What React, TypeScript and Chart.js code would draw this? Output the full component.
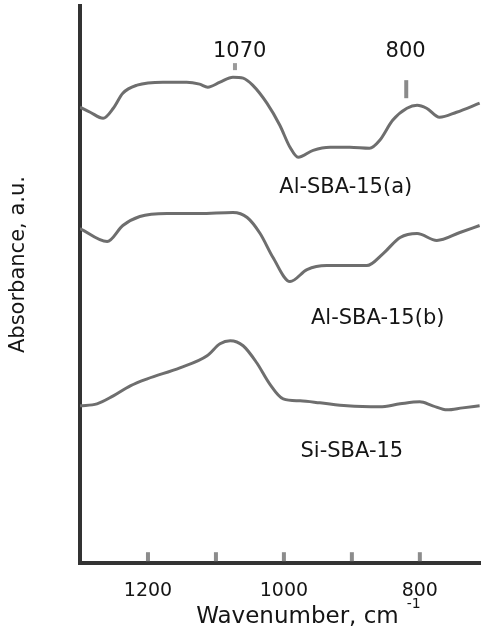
import React, { useEffect, useRef } from "react";
import { Chart, registerables } from "chart.js";

Chart.register(...registerables);

// Wavenumber (cm-1) and absorbance (a.u., offset) of each spectrum
const wnA = [1300, 1285, 1266, 1251, 1237, 1216, 1178, 1143, 1124, 1112, 1094, 1075, 1060, 1046, 1025, 1006, 991, 979, 957, 932, 903, 874, 859, 840, 819, 804, 790, 771, 746, 712];
const absA = [4.55, 4.5, 4.44, 4.54, 4.69, 4.77, 4.8, 4.8, 4.78, 4.75, 4.8, 4.85, 4.84, 4.77, 4.59, 4.37, 4.15, 4.05, 4.12, 4.15, 4.15, 4.14, 4.22, 4.42, 4.54, 4.57, 4.54, 4.45, 4.5, 4.59];

const wnB = [1300, 1260, 1237, 1212, 1172, 1124, 1075, 1054, 1035, 1016, 991, 966, 937, 878, 854, 829, 804, 775, 741, 712];
const absB = [3.34, 3.21, 3.37, 3.46, 3.49, 3.49, 3.5, 3.45, 3.29, 3.05, 2.81, 2.93, 2.97, 2.97, 3.09, 3.25, 3.29, 3.22, 3.3, 3.37];

const wnSi = [1300, 1275, 1251, 1226, 1201, 1153, 1113, 1094, 1079, 1060, 1040, 1021, 1001, 976, 947, 907, 859, 829, 800, 781, 760, 737, 712];
const absSi = [1.57, 1.59, 1.67, 1.77, 1.84, 1.95, 2.07, 2.19, 2.22, 2.17, 2.0, 1.79, 1.64, 1.62, 1.6, 1.57, 1.56, 1.59, 1.61, 1.57, 1.53, 1.55, 1.57];

const seriesNames = ["Al-SBA-15(a)", "Al-SBA-15(b)", "Si-SBA-15"];
const tickValues = [1200, 1100, 1000, 900, 800];
const tickLabelValues = [1200, 1000, 800];
const peakLabels = ["1070", "800"];
const xTitle = "Wavenumber, cm";
const xTitleSup = "-1";
const yTitle = "Absorbance, a.u.";

const FONT = "'DejaVu Sans', sans-serif";
const LINE = "#6e6e6e";
const TEXT = "#151515";

const toPts = (xs: number[], ys: number[]) => xs.map((x, i) => ({ x, y: ys[i] }));

const annotations = {
  id: "annotations",
  afterDraw(chart: any) {
    const { ctx, chartArea, scales } = chart;
    const xs = scales.x;
    const ys = scales.y;
    ctx.save();

    // inward tick marks
    ctx.strokeStyle = "#8c8c8c";
    ctx.lineWidth = 4;
    tickValues.forEach((v) => {
      const px = xs.getPixelForValue(v);
      ctx.beginPath();
      ctx.moveTo(px, chartArea.bottom - 2);
      ctx.lineTo(px, chartArea.bottom - 11);
      ctx.stroke();
    });

    // peak markers
    ctx.strokeStyle = "#9a9a9a";
    ctx.lineWidth = 4;
    ctx.beginPath();
    ctx.moveTo(xs.getPixelForValue(1072), ys.getPixelForValue(4.99));
    ctx.lineTo(xs.getPixelForValue(1072), ys.getPixelForValue(4.92));
    ctx.stroke();
    ctx.strokeStyle = "#8a8a8a";
    ctx.beginPath();
    ctx.moveTo(xs.getPixelForValue(820), ys.getPixelForValue(4.82));
    ctx.lineTo(xs.getPixelForValue(820), ys.getPixelForValue(4.64));
    ctx.stroke();

    ctx.fillStyle = TEXT;
    ctx.textAlign = "center";
    ctx.textBaseline = "middle";
    ctx.font = `21px ${FONT}`;
    ctx.fillText(peakLabels[0], xs.getPixelForValue(1065), ys.getPixelForValue(5.11));
    ctx.fillText(peakLabels[1], xs.getPixelForValue(821), ys.getPixelForValue(5.11));

    ctx.fillText(seriesNames[0], xs.getPixelForValue(909), ys.getPixelForValue(3.75));
    ctx.fillText(seriesNames[1], xs.getPixelForValue(862), ys.getPixelForValue(2.445));
    ctx.fillText(seriesNames[2], xs.getPixelForValue(900), ys.getPixelForValue(1.115));

    // x title
    ctx.font = `23px ${FONT}`;
    const tx = xs.getPixelForValue(980);
    const ty = chartArea.bottom + 54;
    ctx.fillText(xTitle, tx, ty);
    const w = ctx.measureText(xTitle).width;
    ctx.font = `14px ${FONT}`;
    ctx.textAlign = "left";
    ctx.fillText(xTitleSup, tx + w / 2 + 8, ty - 13);

    // y title
    ctx.font = `21px ${FONT}`;
    ctx.textAlign = "center";
    ctx.translate(chartArea.left - 61, ys.getPixelForValue(2.98));
    ctx.rotate(-Math.PI / 2);
    ctx.fillText(yTitle, 0, 0);

    ctx.restore();
  },
};

export default function App() {
  const ref = useRef<HTMLCanvasElement | null>(null);

  useEffect(() => {
    if (!ref.current) return;
    const mk = (label: string, xs: number[], ys: number[]) => ({
      label,
      data: toPts(xs, ys),
      borderColor: LINE,
      borderWidth: 3,
      pointRadius: 0,
      fill: false,
      cubicInterpolationMode: "monotone" as const,
    });
    const chart = new Chart(ref.current, {
      type: "line",
      data: {
        datasets: [
          mk(seriesNames[0], wnA, absA),
          mk(seriesNames[1], wnB, absB),
          mk(seriesNames[2], wnSi, absSi),
        ],
      },
      options: {
        animation: false,
        responsive: false,
        layout: { padding: { left: 80, top: 6, right: 0, bottom: 19 } },
        plugins: { legend: { display: false }, tooltip: { enabled: false } },
        scales: {
          x: {
            type: "linear",
            reverse: true,
            min: 710,
            max: 1300,
            grid: { display: false, drawTicks: false },
            border: { display: true, width: 4, color: "#333333" },
            afterBuildTicks: (scale: any) => {
              scale.ticks = tickValues.map((v) => ({ value: v }));
            },
            ticks: {
              autoSkip: false,
              maxRotation: 0,
              padding: 16,
              color: TEXT,
              font: { family: FONT, size: 19 },
              callback: (v: any) => (tickLabelValues.includes(Number(v)) ? String(v) : ""),
            },
          },
          y: {
            type: "linear",
            min: 0,
            max: 5.56,
            grid: { display: false, drawTicks: false },
            border: { display: true, width: 4, color: "#333333" },
            ticks: { display: false },
          },
        },
      },
      plugins: [annotations],
    });
    return () => chart.destroy();
  }, []);

  return (
    <div style={{ position: "absolute", left: 0, top: 0, width: 481, height: 637, background: "#fff" }}>
      <canvas ref={ref} width={481} height={637} style={{ display: "block" }} />
    </div>
  );
}
